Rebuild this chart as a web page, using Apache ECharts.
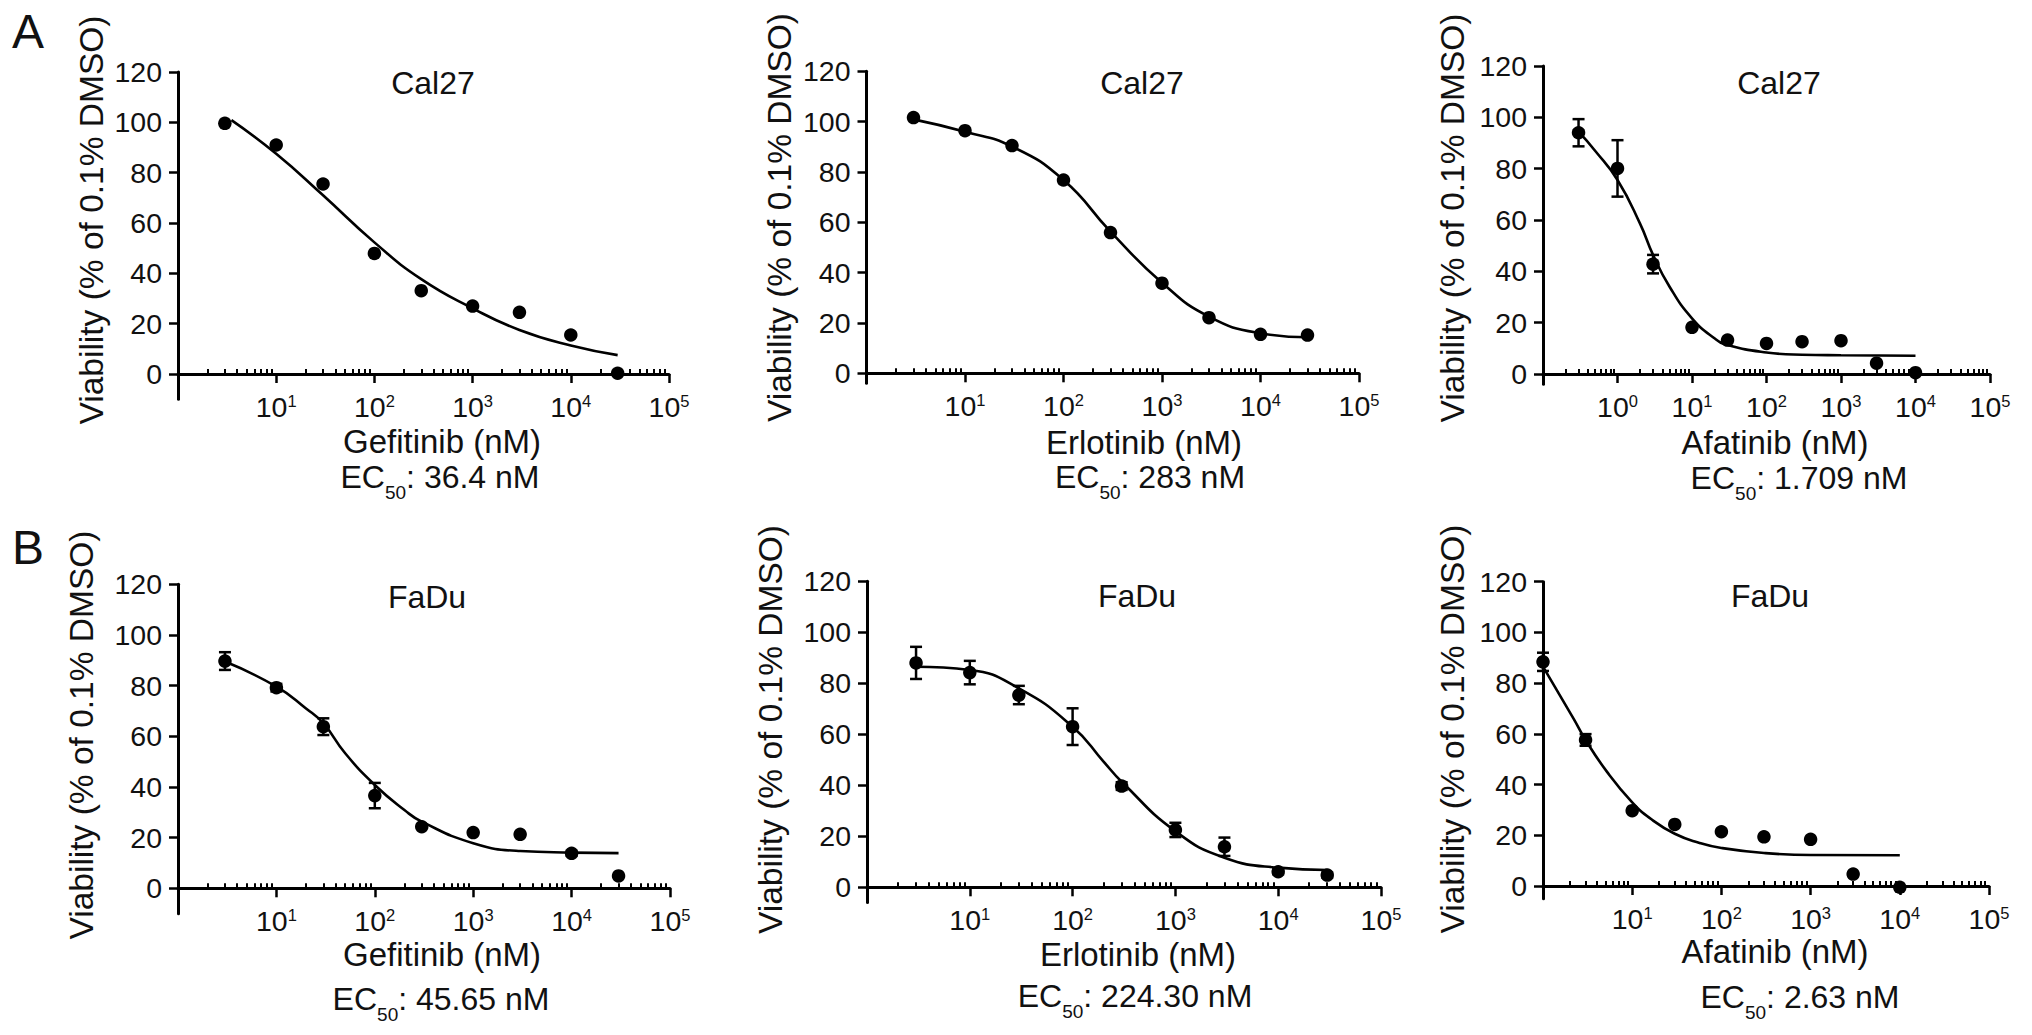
<!DOCTYPE html>
<html>
<head>
<meta charset="utf-8">
<script src="https://cdn.jsdelivr.net/npm/echarts@6/dist/echarts.min.js"></script>
<style>
html,body{margin:0;padding:0;background:#ffffff;}
#chart{width:2032px;height:1035px;}
</style>
</head>
<body>
<div id="chart"></div>
<script>
// ---------------- data ----------------
// Cal27 - Gefitinib
const gefCalX   = [3, 10, 30, 100, 300, 1000, 3000, 10000, 30000];
const gefCalY   = [99.6, 91.0, 75.5, 47.9, 33.1, 27.0, 24.5, 15.5, 0.3];
const gefCalErr = [0, 0, 0, 0, 0, 0, 0, 0, 0];
const gefCalFitX = [3.5, 10, 30, 100, 300, 1000, 3000, 10000, 30000];
const gefCalFitY = [100.9, 87.5, 71.0, 52.3, 37.7, 26.1, 17.5, 11.3, 7.5];
// Cal27 - Erlotinib
const erlCalX   = [3, 10, 30, 100, 300, 1000, 3000, 10000, 30000];
const erlCalY   = [101.6, 96.4, 90.5, 76.8, 55.9, 35.8, 22.1, 15.5, 15.2];
const erlCalErr = [0, 0, 0, 0, 0, 0, 0, 0, 0];
const erlCalFitX = [3, 10, 30, 100, 300, 1000, 3000, 10000, 30000];
const erlCalFitY = [100.9, 96.0, 90.1, 76.8, 56.3, 36.0, 22.5, 15.9, 14.3];
// Cal27 - Afatinib
const afaCalX   = [0.3, 1, 3, 10, 30, 100, 300, 1000, 3000, 10000];
const afaCalY   = [94.0, 80.1, 42.8, 18.2, 13.2, 11.9, 12.6, 13.0, 4.2, 0.5];
const afaCalErr = [5.3, 11.0, 3.6, 0, 0, 0, 0, 0, 0, 0];
const afaCalFitX = [0.3, 0.5, 1, 2, 3, 5, 10, 20, 30, 100, 300, 1000, 10000];
const afaCalFitY = [94.4, 87.0, 75.6, 58.7, 46.4, 34.0, 21.7, 13.9, 11.3, 8.4, 7.5, 7.3, 7.1];
// FaDu - Gefitinib
const gefFaX   = [3, 10, 30, 100, 300, 1000, 3000, 10000, 30000];
const gefFaY   = [89.7, 79.2, 63.8, 36.6, 24.3, 22.0, 21.3, 13.8, 4.9];
const gefFaErr = [3.5, 1.5, 3.3, 5.0, 0, 0, 0, 1.0, 0];
const gefFaFitX = [3, 10, 20, 30, 50, 100, 200, 300, 1000, 3000, 10000, 30000];
const gefFaFitY = [89.5, 79.6, 71.0, 65.1, 53.3, 40.8, 30.9, 26.3, 17.8, 14.7, 14.1, 13.9];
// FaDu - Erlotinib
const erlFaX   = [3, 10, 30, 100, 300, 1000, 3000, 10000, 30000];
const erlFaY   = [88.0, 84.2, 75.4, 63.0, 39.7, 22.5, 15.9, 6.1, 4.8];
const erlFaErr = [6.3, 4.6, 3.6, 7.2, 1.5, 2.8, 3.6, 1.0, 1.0];
const erlFaFitX = [3, 10, 30, 100, 200, 300, 1000, 3000, 10000, 30000];
const erlFaFitY = [86.5, 85.2, 78.0, 63.0, 49.3, 41.4, 22.0, 11.6, 7.7, 6.8];
// FaDu - Afatinib
const afaFaX   = [1, 3, 10, 30, 100, 300, 1000, 3000, 10000];
const afaFaY   = [88.4, 57.6, 29.7, 24.3, 21.4, 19.4, 18.4, 4.7, -0.5];
const afaFaErr = [3.6, 2.3, 0, 0, 0, 0, 0, 0, 0];
const afaFaFitX = [1, 2.2, 3, 5.2, 10, 16, 30, 57, 100, 300, 1000, 10000];
const afaFaFitY = [86.5, 66.0, 57.6, 45.1, 33.0, 26.6, 20.6, 17.0, 15.0, 13.0, 12.2, 12.1];

// tick labels / axis values
const yTicks = [0, 20, 40, 60, 80, 100, 120];
const decadesStd  = [1, 10, 100, 1000, 10000, 100000];
const decadesWide = [0.1, 1, 10, 100, 1000, 10000, 100000];
const minorMult = [2, 3, 4, 5, 6, 7, 8, 9];
const cellLines = ['Cal27', 'Cal27', 'Cal27', 'FaDu', 'FaDu', 'FaDu'];
const drugNames = ['Gefitinib (nM)', 'Erlotinib (nM)', 'Afatinib (nM)', 'Gefitinib (nM)', 'Erlotinib (nM)', 'Afatinib (nM)'];
const ec50Texts = ['36.4 nM', '283 nM', '1.709 nM', '45.65 nM', '224.30 nM', '2.63 nM'];
const yName = 'Viability (% of 0.1% DMSO)';
const panelLetters = ['A', 'B'];

const panels = [
  {x: gefCalX, y: gefCalY, err: gefCalErr, fx: gefCalFitX, fy: gefCalFitY, dec: decadesStd},
  {x: erlCalX, y: erlCalY, err: erlCalErr, fx: erlCalFitX, fy: erlCalFitY, dec: decadesStd},
  {x: afaCalX, y: afaCalY, err: afaCalErr, fx: afaCalFitX, fy: afaCalFitY, dec: decadesWide},
  {x: gefFaX,  y: gefFaY,  err: gefFaErr,  fx: gefFaFitX,  fy: gefFaFitY,  dec: decadesStd},
  {x: erlFaX,  y: erlFaY,  err: erlFaErr,  fx: erlFaFitX,  fy: erlFaFitY,  dec: decadesStd},
  {x: afaFaX,  y: afaFaY,  err: afaFaErr,  fx: afaFaFitX,  fy: afaFaFitY,  dec: decadesStd}
];

// ---------------- layout (pixels) ----------------
const layout = [
  {left: 178,   right: 669,  top: 72,    zero: 374,   ymin: -10, title: [433, 83],  yname: [91, 220],   xname: [442, 441],  ec: [440, 477]},
  {left: 866.5, right: 1359, top: 71.3,  zero: 373.3, ymin: -4,  title: [1142, 83], yname: [779, 217.5], xname: [1144, 442], ec: [1150, 477]},
  {left: 1543,  right: 1990, top: 66,    zero: 374,   ymin: -4,  title: [1779, 83], yname: [1452, 218], xname: [1775, 442], ec: [1799, 478]},
  {left: 178,   right: 670,  top: 584.3, zero: 888.3, ymin: -10, title: [427, 597], yname: [81, 735],   xname: [442, 954],  ec: [441, 999]},
  {left: 867,   right: 1381, top: 581.3, zero: 887.3, ymin: -6,  title: [1137, 596], yname: [770, 729.5], xname: [1138, 954], ec: [1135, 996]},
  {left: 1543,  right: 1989, top: 581.7, zero: 886,   ymin: -5,  title: [1770, 596], yname: [1452, 729], xname: [1775, 951], ec: [1800, 997]}
];
const letterPos = [[28, 31], [28, 547]];
const X_LABEL_GAP = 18;

const F = "'Liberation Sans', Arial, Helvetica, sans-serif";
const INK = '#000000';
const TXT = '#111111';
const YMAX = 120;

const grids = [], xAxes = [], yAxes = [], series = [], graphics = [];

panels.forEach(function (p, i) {
  const L = layout[i];
  const h = (L.zero - L.top) * (YMAX - L.ymin) / YMAX;
  const belowZero = h - (L.zero - L.top);
  grids.push({left: L.left, top: L.top, width: L.right - L.left, height: h,
              containLabel: false, outerBoundsMode: 'none'});
  const dmin = p.dec[0], dmax = p.dec[p.dec.length - 1];
  const minorVals = [];
  p.dec.slice(0, -1).forEach(function (d) { minorMult.forEach(function (m) { minorVals.push(m * d); }); });

  // major axis (line, decade ticks, labels)
  xAxes.push({
    type: 'log', logBase: 10, gridIndex: i, min: dmin, max: dmax,
    axisLine: {show: true, onZero: true, onZeroAxisIndex: i, lineStyle: {color: INK, width: 3}},
    axisTick: {show: true, inside: false, length: 9, customValues: p.dec, lineStyle: {color: INK, width: 2.5}},
    minorTick: {show: false},
    splitLine: {show: false},
    axisLabel: {
      show: true, margin: X_LABEL_GAP - belowZero, customValues: p.dec.slice(1),
      formatter: function (v) { return '{b|10}{s|' + Math.round(Math.log10(v)) + '}'; },
      rich: {
        b: {fontSize: 28.5, fontFamily: F, color: TXT, lineHeight: 30},
        s: {fontSize: 16.5, fontFamily: F, color: TXT, lineHeight: 20, verticalAlign: 'top'}
      }
    }
  });
  // minor axis (only short ticks)
  xAxes.push({
    type: 'log', logBase: 10, gridIndex: i, min: dmin, max: dmax,
    axisLine: {show: false, onZero: true, onZeroAxisIndex: i},
    axisTick: {show: true, inside: false, length: 5, customValues: minorVals, lineStyle: {color: INK, width: 2}},
    splitLine: {show: false},
    axisLabel: {show: false}
  });
  yAxes.push({
    type: 'value', gridIndex: i, min: L.ymin, max: YMAX,
    axisLine: {show: true, onZero: false, lineStyle: {color: INK, width: 3}},
    axisTick: {show: true, inside: false, length: 9, customValues: yTicks, lineStyle: {color: INK, width: 2.5}},
    splitLine: {show: false},
    axisLabel: {show: true, margin: 16, customValues: yTicks, fontSize: 28.5, fontFamily: F, color: TXT}
  });

  series.push({
    type: 'line', xAxisIndex: 2 * i, yAxisIndex: i,
    data: p.fx.map(function (v, k) { return [v, p.fy[k]]; }),
    smooth: 0.5, showSymbol: false, symbol: 'none',
    lineStyle: {color: INK, width: 2.6}, z: 2, silent: true
  });
  series.push({
    type: 'scatter', xAxisIndex: 2 * i, yAxisIndex: i,
    data: p.x.map(function (v, k) { return [v, p.y[k]]; }),
    symbol: 'circle', symbolSize: 13.5, itemStyle: {color: INK, opacity: 1}, z: 3, silent: true
  });
  const errData = [];
  p.x.forEach(function (v, k) { if (p.err[k] > 0) errData.push([v, p.y[k] - p.err[k], p.y[k] + p.err[k]]); });
  series.push({
    type: 'custom', xAxisIndex: 2 * i, yAxisIndex: i,
    data: errData, encode: {x: 0, y: [1, 2]}, z: 4, silent: true,
    renderItem: function (params, api) {
      const t = api.coord([api.value(0), api.value(2)]);
      const b = api.coord([api.value(0), api.value(1)]);
      const w = 6;
      const st = {stroke: INK, lineWidth: 2.5};
      return {type: 'group', children: [
        {type: 'line', shape: {x1: t[0], y1: t[1], x2: b[0], y2: b[1]}, style: st},
        {type: 'line', shape: {x1: t[0] - w, y1: t[1], x2: t[0] + w, y2: t[1]}, style: st},
        {type: 'line', shape: {x1: b[0] - w, y1: b[1], x2: b[0] + w, y2: b[1]}, style: st}
      ]};
    }
  });

  // texts
  graphics.push({type: 'text', x: L.title[0], y: L.title[1], silent: true,
    style: {text: cellLines[i], fill: TXT, font: '32px ' + F, textAlign: 'center', textVerticalAlign: 'middle', align: 'center', verticalAlign: 'middle'}});
  graphics.push({type: 'text', x: L.yname[0], y: L.yname[1], rotation: Math.PI / 2, silent: true,
    style: {text: yName, fill: TXT, font: '33.5px ' + F, textAlign: 'center', textVerticalAlign: 'middle', align: 'center', verticalAlign: 'middle'}});
  graphics.push({type: 'text', x: L.xname[0], y: L.xname[1], silent: true,
    style: {text: drugNames[i], fill: TXT, font: '33px ' + F, textAlign: 'center', textVerticalAlign: 'middle', align: 'center', verticalAlign: 'middle'}});
  graphics.push({type: 'text', x: L.ec[0], y: L.ec[1], silent: true,
    style: {
      text: '{m|EC}{u|50}{m|: ' + ec50Texts[i] + '}', fill: TXT,
      textAlign: 'center', textVerticalAlign: 'middle', align: 'center', verticalAlign: 'middle',
      rich: {
        m: {fontSize: 32, fontFamily: F, fill: TXT, color: TXT, lineHeight: 50, verticalAlign: 'middle'},
        u: {fontSize: 19, fontFamily: F, fill: TXT, color: TXT, lineHeight: 20, verticalAlign: 'bottom'}
      }
    }});
});

panelLetters.forEach(function (t, k) {
  graphics.push({type: 'text', x: letterPos[k][0], y: letterPos[k][1], silent: true,
    style: {text: t, fill: TXT, font: '48px ' + F, textAlign: 'center', textVerticalAlign: 'middle', align: 'center', verticalAlign: 'middle'}});
});

const chart = echarts.init(document.getElementById('chart'), null, {renderer: 'svg'});
chart.setOption({
  backgroundColor: '#ffffff',
  animation: false,
  textStyle: {fontFamily: F},
  grid: grids,
  xAxis: xAxes,
  yAxis: yAxes,
  series: series,
  graphic: {elements: graphics}
});
</script>
</body>
</html>
